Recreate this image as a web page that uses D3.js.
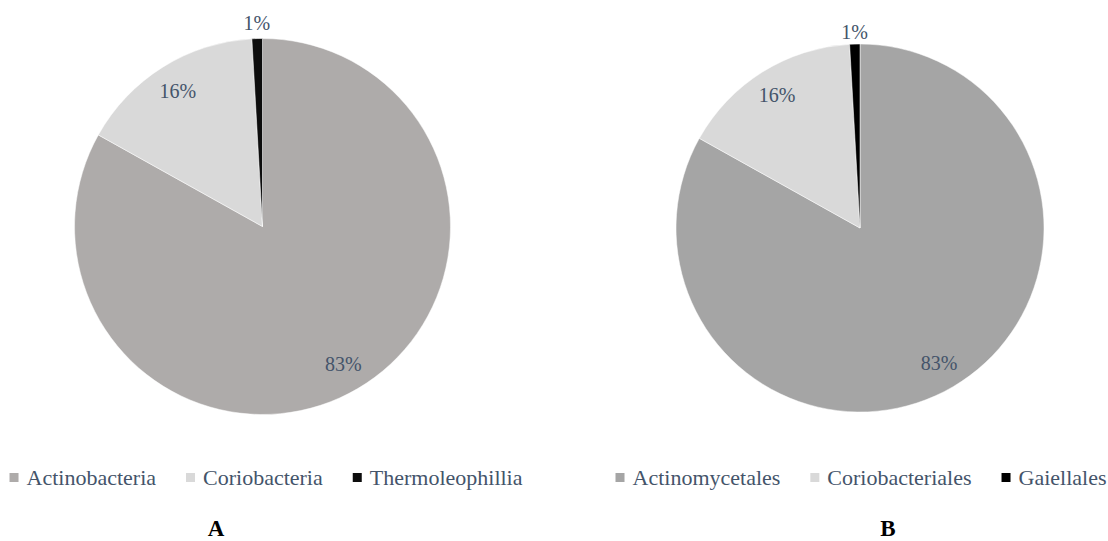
<!DOCTYPE html>
<html>
<head>
<meta charset="utf-8">
<script src="https://cdn.jsdelivr.net/npm/d3@7"></script>
<style>
  body { margin: 0; background: #fff; }
  text { font-family: "Liberation Serif", "Times New Roman", serif; }
</style>
</head>
<body>
<script>
// chart A: class level
const groupsA = ["Actinobacteria", "Coriobacteria", "Thermoleophillia"]
const valuesA = [83.1, 16.0, 0.9]
const labelsA = ["83%", "16%", "1%"]
const colorsA = ["#aeabaa", "#d9d9d9", "#0d0d0d"]

// chart B: order level
const groupsB = ["Actinomycetales", "Coriobacteriales", "Gaiellales"]
const valuesB = [83.1, 16.0, 0.9]
const labelsB = ["83%", "16%", "1%"]
const colorsB = ["#a5a5a5", "#d9d9d9", "#000000"]

const width = 1108
const height = 541
const textColor = "#44546a"

let svg = d3.select("body")
    .append("svg")
    .attr("width", width)
    .attr("height", height)

function drawPie(cfg) {
    let data = cfg.groups.map((g, i) => ({ name: g, value: cfg.values[i], label: cfg.labels[i], color: cfg.colors[i] }))

    let pie = d3.pie()
        .sort(null)
        .value(d => d.value)

    let arcs = pie(data)

    let arc = d3.arc()
        .innerRadius(0)
        .outerRadius(cfg.r)

    let labelArc = d3.arc()
        .innerRadius(cfg.r * 0.85)
        .outerRadius(cfg.r * 0.85)

    let outerArc = d3.arc()
        .innerRadius(cfg.r + cfg.outPad)
        .outerRadius(cfg.r + cfg.outPad)

    let g = svg.append("g")
        .attr("transform", "translate(" + cfg.cx + "," + cfg.cy + ")")

    g.selectAll("path")
        .data(arcs)
        .enter()
        .append("path")
        .attr("d", arc)
        .attr("fill", d => d.data.color)
        .attr("stroke", "#fff")
        .attr("stroke-width", 0.5)

    g.selectAll("text.lbl")
        .data(arcs)
        .enter()
        .append("text")
        .attr("class", "lbl")
        .attr("transform", d => {
            let small = (d.endAngle - d.startAngle) < 0.2     // thin slice -> label outside
            let c = small ? outerArc.centroid(d) : labelArc.centroid(d)
            return "translate(" + c[0] + "," + c[1] + ")"
        })
        .attr("text-anchor", "middle")
        .attr("dy", "0.35em")
        .attr("fill", textColor)
        .style("font-size", "20px")
        .text(d => d.data.label)

    // legend row
    let leg = svg.append("g")
    let x = 0
    data.forEach(d => {
        let item = leg.append("g").attr("transform", "translate(" + x + ",0)")
        item.append("rect")
            .attr("x", 0)
            .attr("y", -5)
            .attr("width", 9)
            .attr("height", 9)
            .attr("fill", d.color)
        let t = item.append("text")
            .attr("x", 17)
            .attr("y", 0)
            .attr("dy", "0.33em")
            .attr("fill", textColor)
            .style("font-size", "22px")
            .text(d.name)
        x += 17 + t.node().getComputedTextLength() + 30
    })
    let legW = x - 30
    leg.attr("transform", "translate(" + (cfg.legCx - legW / 2) + "," + cfg.legY + ")")

    svg.append("text")
        .attr("x", cfg.tagX)
        .attr("y", 536)
        .attr("text-anchor", "middle")
        .attr("fill", "#000")
        .style("font-size", "23px")
        .style("font-weight", "bold")
        .text(cfg.tag)
}

drawPie({ groups: groupsA, values: valuesA, labels: labelsA, colors: colorsA,
          cx: 262.5, cy: 226.5, r: 188, outPad: 16, legCx: 266, legY: 478, tag: "A", tagX: 216 })

drawPie({ groups: groupsB, values: valuesB, labels: labelsB, colors: colorsB,
          cx: 860, cy: 228, r: 184, outPad: 12, legCx: 861, legY: 478, tag: "B", tagX: 888 })
</script>
</body>
</html>
